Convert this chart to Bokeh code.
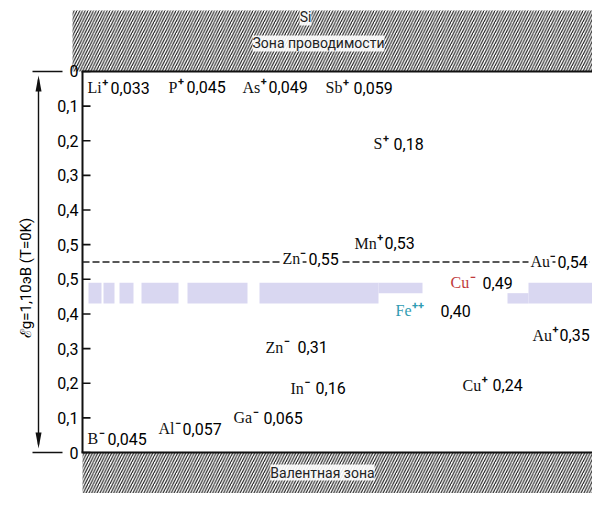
import numpy as np
import pandas as pd
from bokeh.plotting import figure
from bokeh.models import Range1d, ColumnDataSource
from bokeh.core.properties import value
from bokeh.embed import file_html
from bokeh.resources import INLINE

# ---------------- data ----------------
EG = 1.10  # band gap of Si, eV (T = 0 K)
symbols = ["Li", "P", "As", "Sb", "S", "Mn", "Zn", "Au", "Cu", "Fe", "Au", "Zn", "Cu", "In", "Ga", "Al", "B"]
charges = ["+", "+", "+", "+", "+", "+", "-", "-", "-", "++", "+", "-", "+", "-", "-", "-", "-"]
depths = [0.033, 0.045, 0.049, 0.059, 0.18, 0.53, 0.55, 0.54, 0.49, 0.40, 0.35, 0.31, 0.24, 0.16, 0.065, 0.057, 0.045]
measured_from = ["Ec", "Ec", "Ec", "Ec", "Ec", "Ec", "Ev", "Ec", "Ev", "Ev", "Ev", "Ev", "Ev", "Ev", "Ev", "Ev", "Ev"]

tick_depths = [0.0, 0.1, 0.2, 0.3, 0.4, 0.5]
tick_labels = ["0", "0,1", "0,2", "0,3", "0,4", "0,5"]

top_band_texts = ["Si", "Зона проводимости"]
bottom_band_texts = ["Валентная зона"]
axis_title = "ℰg=1,10эВ (T=0K)"

# highlighted strip (eV above Ev)
hl_lo, hl_mid, hl_hi = 0.43, 0.46, 0.49

# ---------------- layout ----------------
W, H = 592, 493
PX = 346.4           # px per eV
Y_EV0 = 452          # px of Ev
BOX_L, BOX_R = 82, 600
INK = "#111111"
SYM_SIZE = 16


def px(n):
    """n screen pixels expressed in eV"""
    return n / PX


# Times-like advance widths (em) used to place the charge after each symbol
GLYPH_W = {"L": .611, "i": .278, "P": .556, "A": .722, "s": .389, "S": .556, "b": .5, "M": .889,
           "n": .5, "Z": .611, "u": .5, "C": .667, "F": .556, "e": .444, "I": .333, "G": .722,
           "a": .444, "l": .278, "B": .667}

sym_x = [87, 168, 242, 325, 373, 354, 280, 528, 450, 395, 532, 265, 462, 290, 233, 158, 87]
num_x = [110, 186, 268, 353, 393, 384, 306, 555, 482, 440, 559, 297, 492, 315, 263, 182, 107]
y_off = [5, 0, -1, -4, 10, -12, -3, 3, 0, -3, 4, 2, 16, -9, -12, -4, 2]
sym_colors = [INK] * 8 + ["#bf3a3c", "#2f9cb2"] + [INK] * 7

strip_x0 = [88, 103, 119, 141, 187, 259, 378, 507, 528]
strip_x1 = [101, 114, 133, 178, 247, 378, 422, 528, 610]
strip_part = ["full", "full", "full", "full", "full", "full", "upper", "lower", "full"]

SERIF = value("Liberation Serif")
SANS = value("Roboto")

# ---------------- figure ----------------
p = figure(width=W, height=H, output_backend="svg", toolbar_location=None,
           x_range=Range1d(0, W), y_range=Range1d(-px(H - Y_EV0), px(Y_EV0)),
           x_axis_location=None, y_axis_location=None,
           min_border=0)
p.outline_line_color = None
p.grid.visible = False
p.background_fill_color = "white"

# hatched bands
hatch = dict(fill_color="white", line_color=None, hatch_pattern="/", hatch_color="#151515",
             hatch_scale=5.5, hatch_weight=1.1)
p.quad(left=[72], right=[BOX_R + 10], bottom=[EG], top=[EG + px(61)], **hatch)
p.quad(left=[BOX_L], right=[BOX_R + 10], bottom=[-0.2], top=[0], **hatch)

# highlighted strip
lo = {"full": hl_lo, "upper": hl_mid, "lower": hl_lo}
hi = {"full": hl_hi, "upper": hl_hi, "lower": hl_mid}
p.quad(left=strip_x0, right=strip_x1,
       bottom=[lo[s] for s in strip_part], top=[hi[s] for s in strip_part],
       fill_color="#d9d7f1", line_color=None)

# box edges (thin filled bars)
p.quad(left=[BOX_L - 1, BOX_L - 1, BOX_L - 1], right=[BOX_R + 10, BOX_R + 10, BOX_L + 1],
       bottom=[EG - px(1), -px(1), 0], top=[EG + px(1), px(1), EG],
       fill_color=INK, line_color=None)

# ticks
tick_E = list(tick_depths) + [EG - d for d in tick_depths]
tick_text = list(tick_labels) + list(tick_labels)
p.quad(left=[BOX_L] * len(tick_E), right=[BOX_L + 8] * len(tick_E),
       bottom=[e - px(0.8) for e in tick_E], top=[e + px(0.8) for e in tick_E],
       fill_color=INK, line_color=None)
p.text(x=[BOX_L - 4] * len(tick_E), y=tick_E, text=tick_text, text_font=SANS,
       text_font_size="16px", text_align="right", text_baseline="middle", text_color="#000000")

# axis title
p.text(x=[25], y=[EG / 2 - px(16)], text=[axis_title], angle=np.pi / 2, text_font=SANS,
       text_font_size="15px", text_align="center", text_baseline="middle", text_color="#000000")

# gap arrow with end bars
AX = 38
p.quad(left=[AX - 0.7], right=[AX + 0.7], bottom=[px(8)], top=[EG - px(8)], fill_color=INK, line_color=None)
p.quad(left=[32, 32], right=[62, 62], bottom=[-px(0.8), EG - px(0.8)], top=[px(0.8), EG + px(0.8)],
       fill_color=INK, line_color=None)
p.patches(xs=[[AX - 3, AX, AX + 3], [AX - 3, AX, AX + 3]],
          ys=[[EG - px(20), EG - px(4), EG - px(20)], [px(20), px(4), px(20)]],
          fill_color=INK, line_color=None)

# midgap dashed line
p.line(x=[BOX_L, BOX_R + 10], y=[EG / 2, EG / 2], line_color="#222222", line_width=1.4, line_dash="7 3")

# band captions
p.text(x=[305, 318], y=[EG + 0.156, EG + 0.081], text=top_band_texts, text_font=SANS,
       text_font_size="14px", text_align="center", text_baseline="middle", text_color="#222222",
       background_fill_color="white", background_fill_alpha=0.9)
p.text(x=[322], y=[-0.058], text=bottom_band_texts, text_font=SANS,
       text_font_size="14px", text_align="center", text_baseline="middle", text_color="#222222",
       background_fill_color="white", background_fill_alpha=0.9)

# level labels
sign = {"+": "+", "-": "\u2212", "++": "++"}


def fmt(d):
    s = f"{d:.2f}" if abs(round(d, 2) - d) < 1e-9 else f"{d:.3f}"
    return s.replace(".", ",")


df = pd.DataFrame(dict(symbol=symbols, charge=charges, depth=depths, ref=measured_from))
df["E"] = np.where(df["ref"] == "Ec", EG - df["depth"], df["depth"])
df["chg"] = df["charge"].map(sign)
df["num"] = [fmt(d) for d in depths]
df["sym_x"] = sym_x
df["chg_x"] = [x + SYM_SIZE * sum(GLYPH_W[c] for c in s) + 0.5 for x, s in zip(sym_x, symbols)]
df["num_x"] = num_x
df["dy"] = y_off
df["chg_dy"] = [d - 6 for d in y_off]
df["color"] = sym_colors
df["midgap"] = (df["E"] - EG / 2).abs() < 0.015

for on_line, sub in df.groupby("midgap"):
    src = ColumnDataSource(sub)
    bg2 = dict(background_fill_color="white", padding=2) if on_line else {}
    bg1 = dict(background_fill_color="white", padding=1) if on_line else {}
    p.text(x="sym_x", y="E", text="symbol", y_offset="dy", source=src, text_font=SERIF,
           text_font_size=f"{SYM_SIZE}px", text_color="color", text_baseline="middle", **bg2)
    p.text(x="chg_x", y="E", text="chg", y_offset="chg_dy", source=src, text_font=SANS,
           text_font_size="11px", text_font_style="bold", text_color="color", text_baseline="middle",
           **bg1)
    p.text(x="num_x", y="E", text="num", y_offset="dy", source=src, text_font=SANS,
           text_font_size="16px", text_color="#000000", text_baseline="middle", **bg2)

open("out.html", "w").write(file_html(p, INLINE))
